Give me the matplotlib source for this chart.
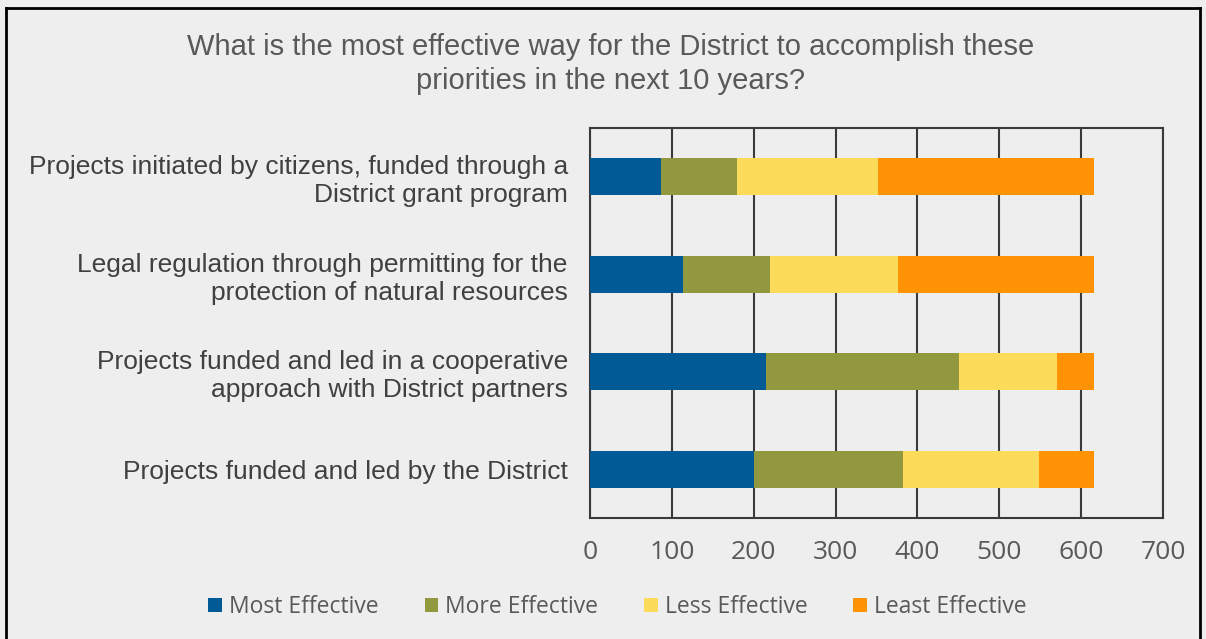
import matplotlib.pyplot as plt
from matplotlib.lines import Line2D
from matplotlib.patches import Patch

categories = ["Projects initiated by citizens, funded through a\nDistrict grant program",
              "Legal regulation through permitting for the\nprotection of natural resources",
              "Projects funded and led in a cooperative\napproach with District partners",
              "Projects funded and led by the District"]
series_names = ["Most Effective", "More Effective", "Less Effective", "Least Effective"]
most_effective = [87, 114, 215, 200]
more_effective = [93, 106, 236, 182]
less_effective = [172, 156, 120, 167]
least_effective = [264, 240, 45, 67]
colors = ["#005A96", "#91983E", "#FDDB5A", "#FF9205"]
x_ticks = [0, 100, 200, 300, 400, 500, 600, 700]

bg = "#EEEEEE"
fig = plt.figure(figsize=(12.06, 6.39), dpi=100, facecolor=bg)
ax = fig.add_axes([590 / 1206, 1 - 518 / 639, 573 / 1206, 390 / 639])
ax.set_facecolor(bg)

ypos = list(range(len(categories)))[::-1]
left = [0] * len(categories)
for name, vals, c in zip(series_names, [most_effective, more_effective, less_effective, least_effective], colors):
    ax.barh(ypos, vals, left=left, height=0.38, color=c, label=name, zorder=3)
    left = [l + v for l, v in zip(left, vals)]

ax.set_xlim(0, 700)
ax.set_ylim(-0.5, 3.5)
ax.set_xticks(x_ticks)
ax.set_xticklabels([str(t) for t in x_ticks], fontsize=19, color="#595959", family="Open Sans")
ax.set_yticks(ypos)
ax.set_yticklabels(categories, fontsize=19, color="#404040", family="Liberation Sans", ha="right",
                   linespacing=1.2)
ax.tick_params(axis="both", length=0)
ax.tick_params(axis="y", pad=16)
ax.tick_params(axis="x", pad=16)
ax.grid(axis="x", color="#3A3A3A", linewidth=1.5, zorder=1)
for s in ax.spines.values():
    s.set_color("#3A3A3A")
    s.set_linewidth(1.5)

fig.text(0.506, 0.9, "What is the most effective way for the District to accomplish these\npriorities in the next 10 years?",
         ha="center", va="center", fontsize=21, color="#595959", family="Liberation Sans", linespacing=1.25)

handles = [Patch(facecolor=c, edgecolor="none") for c in colors]
fig.legend(handles, series_names, loc="center", bbox_to_anchor=(0.512, 0.05), ncol=4, frameon=False,
           prop={"family": "Open Sans", "size": 16.5}, labelcolor="#595959", handlelength=0.6,
           handleheight=0.6, handletextpad=0.3, columnspacing=2.0)

# outer border
for xs, ys in [([6 / 1206, 6 / 1206], [0, 1 - 8 / 639]),
               ([6 / 1206, 1200 / 1206], [1 - 8 / 639, 1 - 8 / 639]),
               ([1200 / 1206, 1200 / 1206], [0, 1 - 8 / 639])]:
    fig.add_artist(Line2D(xs, ys, transform=fig.transFigure, color="black", linewidth=2))

fig.savefig("out.png", dpi=100, facecolor=bg)
